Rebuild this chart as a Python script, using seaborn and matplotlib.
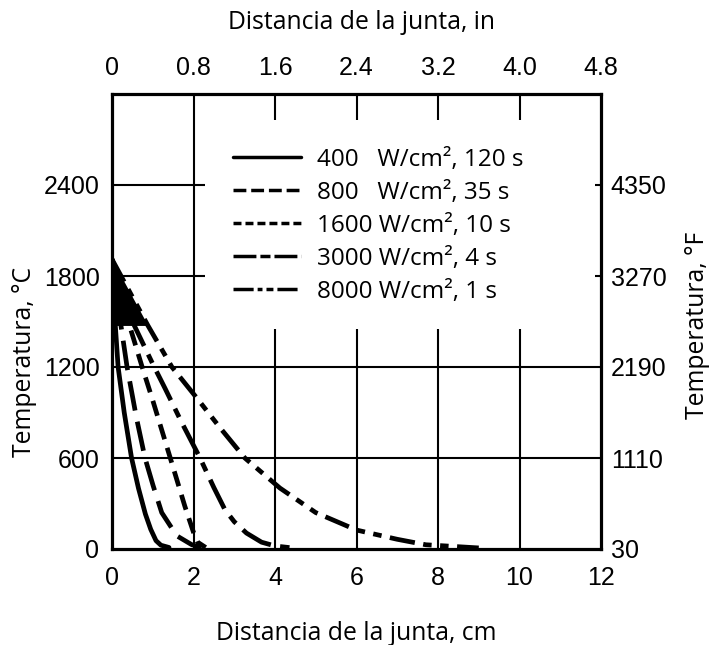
import matplotlib
matplotlib.use("Agg")
import matplotlib.pyplot as plt
from matplotlib.lines import Line2D
import numpy as np
import pandas as pd
import seaborn as sns

# ---------------- data ----------------
series_labels = ["400   W/cm², 120 s", "800   W/cm², 35 s", "1600 W/cm², 10 s",
                 "3000 W/cm², 4 s", "8000 W/cm², 1 s"]

x_400 = [0.0, 0.05, 0.15, 0.3, 0.48, 0.65, 0.82, 0.95, 1.08, 1.2, 1.4]
y_400 = [1910, 1600, 1200, 900, 600, 400, 230, 130, 55, 25, 10]

x_800 = [0.0, 0.15, 0.37, 0.6, 0.81, 1.01, 1.22, 1.59, 1.96, 2.2]
y_800 = [1910, 1600, 1200, 865, 600, 417, 240, 87, 28, 10]

x_1600 = [0.0, 0.4, 0.74, 1.0, 1.43, 1.79, 2.0, 2.1, 2.3]
y_1600 = [1910, 1500, 1200, 980, 600, 280, 110, 45, 10]

x_3000 = [0.0, 0.5, 1.0, 1.3, 1.7, 2.16, 2.5, 2.77, 3.0, 3.3, 3.67, 4.0, 4.4]
y_3000 = [1910, 1500, 1220, 1060, 840, 600, 405, 260, 180, 105, 45, 20, 8]

x_8000 = [0.0, 0.88, 1.47, 2.08, 2.65, 3.26, 4.12, 5.0, 6.0, 7.0, 7.7, 9.0]
y_8000 = [1910, 1474, 1200, 996, 800, 600, 402, 240, 125, 64, 28, 7]

wedge_x = [0.0, 0.88]
wedge_y = [1910, 1474]

x_ticks_cm = [0, 2, 4, 6, 8, 10, 12]
x_tick_labels_in = ["0", "0.8", "1.6", "2.4", "3.2", "4.0", "4.8"]
y_ticks_c = [0, 600, 1200, 1800, 2400]
y_tick_labels_f = ["30", "1110", "2190", "3270", "4350"]

xs = [x_400, x_800, x_1600, x_3000, x_8000]
ys = [y_400, y_800, y_1600, y_3000, y_8000]
df = pd.concat([pd.DataFrame({"x": x, "y": y, "serie": lab})
                for x, y, lab in zip(xs, ys, series_labels)], ignore_index=True)

# ---------------- style ----------------
sns.set_theme(style="white")
plt.rcParams["font.family"] = ["Open Sans", "DejaVu Sans"]
tick_font = ["Liberation Sans", "DejaVu Sans"]
tick_fs = 18

plot_dashes = {
    series_labels[0]: "",
    series_labels[1]: (6.3, 2.4),
    series_labels[2]: (3.3, 1.9),
    series_labels[3]: (6.8, 2.0, 2.0, 2.0),
    series_labels[4]: (5.4, 1.8, 1.8, 1.8, 1.8, 1.8),
}
legend_dashes = [None, (3.7, 1.4), (2.3, 1.15), (6.6, 1.15, 2.9, 1.15),
                 (5.8, 1.15, 1.4, 1.15, 2.0, 1.15)]

fig = plt.figure(figsize=(7.09, 6.45), dpi=100)
W, H = 709, 645
L, R, T, B = 112, 601, 94, 549
ax = fig.add_axes([L / W, 1 - B / H, (R - L) / W, (B - T) / H])

ylo, yhi = 0, 3000
ax.set_xlim(0, 12)
ax.set_ylim(ylo, yhi)

# grid (interrupted around the legend, like the original)
gkw = dict(color="black", lw=1.5, zorder=1)
ax.vlines(x_ticks_cm[1], ylo, yhi, **gkw)
ax.vlines(x_ticks_cm[2:-1], ylo, 1450, **gkw)
ax.vlines(x_ticks_cm[2:-1], 2830, yhi, **gkw)
ax.hlines(y_ticks_c[1:3], 0, 12, **gkw)
ax.hlines(y_ticks_c[3:], 0, 2.28, **gkw)
ax.hlines(y_ticks_c[3:], 11.85, 12, **gkw)

palette = {lab: "black" for lab in series_labels}
sns.lineplot(data=df, x="x", y="y", hue="serie", style="serie",
             palette=palette, dashes=plot_dashes, sort=False, estimator=None,
             lw=3.4, legend=False, ax=ax, zorder=3)
for ln in ax.get_lines():
    ln.set_solid_joinstyle("round")
    ln.set_dash_joinstyle("round")

ax.fill_betweenx(wedge_y, [0, 0], wedge_x, color="black", lw=0, zorder=3)
ax.set_xlabel("")
ax.set_ylabel("")

for sp in ax.spines.values():
    sp.set_color("black")
    sp.set_linewidth(2.3)
    sp.set_visible(True)

ax.set_xticks(x_ticks_cm)
ax.set_xticklabels([str(v) for v in x_ticks_cm])
ax.set_yticks(y_ticks_c)
ax.set_yticklabels([str(v) for v in y_ticks_c])
ax.tick_params(axis="x", length=0, pad=12, labelsize=tick_fs, colors="black")
ax.tick_params(axis="y", length=0, pad=9, labelsize=tick_fs, colors="black")
for lab in ax.get_xticklabels() + ax.get_yticklabels():
    lab.set_family(tick_font)

secx = ax.secondary_xaxis("top")
secx.set_xticks(x_ticks_cm)
secx.set_xticklabels(x_tick_labels_in)
secx.tick_params(length=0, pad=10, labelsize=tick_fs, colors="black")
secy = ax.secondary_yaxis("right")
secy.set_yticks(y_ticks_c)
secy.set_yticklabels(y_tick_labels_f)
secy.tick_params(length=0, pad=7, labelsize=tick_fs, colors="black")
for lab in secx.get_xticklabels() + secy.get_yticklabels():
    lab.set_family(tick_font)
for sec in (secx, secy):
    for sp in sec.spines.values():
        sp.set_visible(False)

lab_fs = 17.8
ax.text(0.50, -0.185, "Distancia de la junta, cm", transform=ax.transAxes,
        ha="center", va="center", fontsize=lab_fs, color="black")
ax.text(0.511, 1.158, "Distancia de la junta, in", transform=ax.transAxes,
        ha="center", va="center", fontsize=lab_fs, color="black")
ax.text(-0.178, 0.411, "Temperatura, °C", transform=ax.transAxes, rotation=90,
        ha="center", va="center", fontsize=lab_fs, color="black")
ax.text(1.198, 0.492, "Temperatura, °F", transform=ax.transAxes, rotation=90,
        ha="center", va="center", fontsize=lab_fs, color="black")

handles = []
for d in legend_dashes:
    if d is None:
        handles.append(Line2D([], [], color="black", lw=2.5))
    else:
        handles.append(Line2D([], [], color="black", lw=2.5, dashes=d))
leg = ax.legend(handles, series_labels, loc="upper left",
                bbox_to_anchor=((233 - L) / (R - L), (B - 148) / (B - T)),
                frameon=False, fontsize=17.5, handlelength=2.8, handletextpad=0.66,
                labelspacing=0.37, borderpad=0, borderaxespad=0)
for t in leg.get_texts():
    t.set_color("black")

fig.savefig("out.png", dpi=100, facecolor="white")
